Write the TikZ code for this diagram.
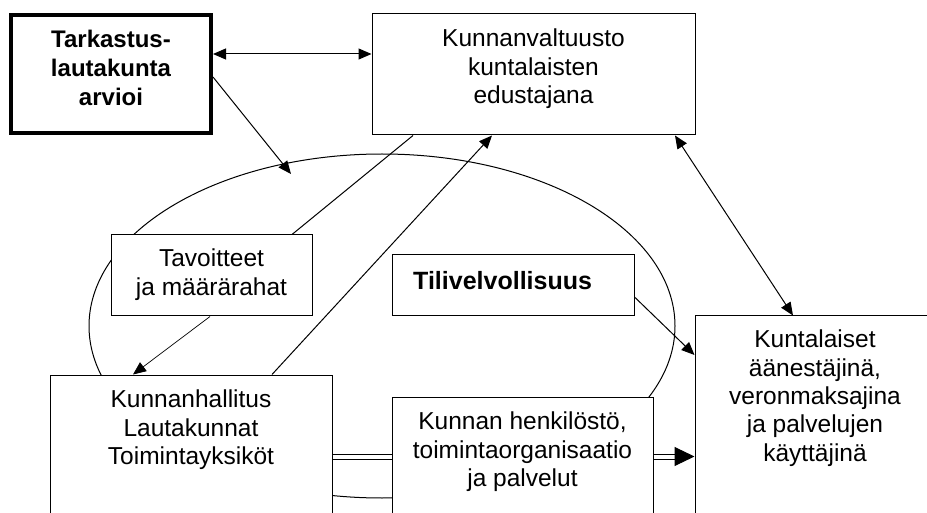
\documentclass[tikz,border=0pt]{standalone}
\usepackage{fontspec}
\setmainfont{Liberation Sans}
\usetikzlibrary{arrows.meta,shapes.geometric,calc}
\begin{document}
\begin{tikzpicture}[x=1pt,y=-1pt,
  box/.style={draw, fill=white, line width=1pt, inner sep=0pt, rectangle},
  txt/.style={align=center, inner sep=0pt, font=\fontsize{24.5}{28.3}\selectfont},
  boldtxt/.style={align=center, inner sep=0pt, font=\bfseries\fontsize{24}{29}\selectfont},
  link/.style={line width=1pt},
  thinlink/.style={line width=0.7pt},
  tip/.style={-{Triangle[length=13pt,width=11pt]}},
  bitip/.style={{Triangle[length=13pt,width=11pt]}-{Triangle[length=13pt,width=11pt]}},
  twin/.style={double, line width=1pt, double distance=4pt}]
\useasboundingbox (0,0) rectangle (927,513);
\clip (0,0) rectangle (927,513);

% the municipal organisation ring
\node[draw, ellipse, line width=1pt, inner sep=0pt,
      minimum width=586pt, minimum height=344pt] (ring) at (382,326) {};

% boxes
\node[box, line width=4pt, minimum width=200pt, minimum height=118pt] (tk) at (111,74) {};
\node[boldtxt, anchor=north] at ($(tk.north)+(0,17)$) {Tarkastus-\\lautakunta\\arvioi};

\node[box, minimum width=323pt, minimum height=121pt] (kv) at (533.5,74.5) {};
\node[txt, anchor=north] at ($(kv.north)+(0,15.5)$) {Kunnanvaltuusto\\kuntalaisten\\edustajana};

\node[box, minimum width=201pt, minimum height=81pt] (tav) at (211.5,275.5) {};
\node[txt, anchor=north, font=\fontsize{24.5}{29}\selectfont] at ($(tav.north)+(0,14.5)$) {Tavoitteet\\ja määrärahat};

\node[box, minimum width=242pt, minimum height=61pt] (tili) at (513,285.5) {};
\node[inner sep=0pt, anchor=base west, font=\bfseries\fontsize{25}{30}\selectfont]
  at ($(tili.west)+(21.5,4.5)$) {Tilivelvollisuus};

\node[box, minimum width=282pt, minimum height=165pt] (kh) at (191,457.5) {};
\node[txt, anchor=north] at ($(kh.north)+(0,15.5)$) {Kunnanhallitus\\Lautakunnat\\Toimintayksiköt};

\node[box, minimum width=261pt, minimum height=143pt] (hs) at (522.5,468.5) {};
\node[txt, anchor=north] at ($(hs.north)+(0,15.5)$) {Kunnan henkilöstö,\\toimintaorganisaatio\\ja palvelut};

\node[box, minimum width=240pt, minimum height=224pt] (kl) at (815,428) {};
\node[txt, anchor=north] at ($(kl.north)+(0,14.5)$) {Kuntalaiset\\äänestäjinä,\\veronmaksajina\\ja palvelujen\\käyttäjinä};

% connectors
\coordinate (ringtop) at (291,174);
\draw[link, bitip] ([yshift=20pt]tk.east) -- ([yshift=20.5pt]kv.west);
\draw[link, tip] ([yshift=-3pt]tk.east) -- (ringtop);
\draw[link] ([xshift=-120.5pt]kv.south) -- ([xshift=80.5pt]tav.north);
\draw[thinlink, tip] ([xshift=-1.5pt]tav.south) -- ([xshift=-58pt]kh.north);
\draw[link, tip] ([xshift=81pt]kh.north) -- ([xshift=-41.5pt]kv.south);
\draw[link, bitip] ([xshift=141.5pt]kv.south) -- ([xshift=-22pt]kl.north);
\draw[link, tip] ([yshift=-11.5pt]tili.east) -- ([yshift=73pt]kl.west);
\draw[twin] ([yshift=1pt]kh.east) -- ([yshift=12pt]hs.west);
\draw[twin, -{Triangle[length=20pt,width=19pt]}] ([yshift=12pt]hs.east) -- ([yshift=-28.5pt]kl.west);
\end{tikzpicture}
\end{document}
